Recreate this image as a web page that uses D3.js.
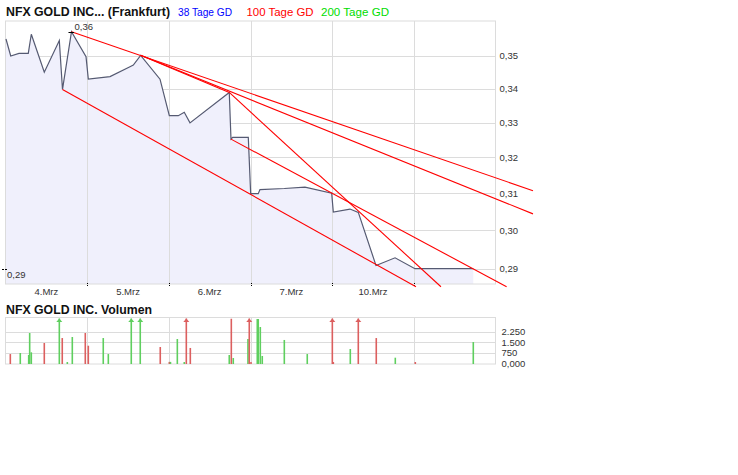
<!DOCTYPE html>
<html><head><meta charset="utf-8">
<script src="https://cdn.jsdelivr.net/npm/d3@7"></script>
<style>body{margin:0;background:#fff} svg{display:block;font-family:"Liberation Sans",Arial,sans-serif}</style>
</head><body><svg id="c" width="738" height="475"></svg>
<script>
// ---------- data ----------
const chartTitle = "NFX GOLD INC... (Frankfurt)";
const volumeTitle = "NFX GOLD INC. Volumen";
const legendLabels = ["38 Tage GD", "100 Tage GD", "200 Tage GD"];
const legendColors = ["#0000ff", "#ff0000", "#00dd00"];
const dayLabels = ["4.Mrz", "5.Mrz", "6.Mrz", "7.Mrz", "10.Mrz"];
const dayBounds = [1, 2, 3, 4, 5];
const priceTicks = [0.29, 0.30, 0.31, 0.32, 0.33, 0.34, 0.35];
const volumeTicks = [0, 750, 1500, 2250];
const volumeTickLabels = ["0,000", "750", "1.500", "2.250"];

// x in trading days from the start (4.Mrz = 0..1), value in EUR
const priceX = [0.006,0.064,0.165,0.279,0.316,0.475,0.659,0.698,0.808,0.986,1.014,1.280,1.524,1.565,1.655,1.892,2.006,2.116,2.189,2.259,2.740,2.761,2.782,2.973,3.002,3.095,3.116,3.414,3.667,3.994,4.014,4.218,4.320,4.537,4.770,5.014,5.728];
const priceV = [0.3553,0.3500,0.3508,0.3508,0.3568,0.3450,0.3548,0.3398,0.3576,0.3498,0.3429,0.3437,0.3467,0.3472,0.3502,0.3429,0.3320,0.3320,0.3330,0.3299,0.3389,0.3252,0.3257,0.3257,0.3099,0.3099,0.3110,0.3113,0.3117,0.3100,0.3049,0.3057,0.3048,0.2908,0.2928,0.2900,0.2900];

const volX = [0.059,0.181,0.284,0.296,0.316,0.475,0.659,0.695,0.757,0.818,0.977,1.014,1.197,1.259,1.540,1.650,1.895,2.006,2.020,2.104,2.189,2.214,2.263,2.740,2.765,2.789,2.969,2.985,3.006,3.083,3.095,3.120,3.144,3.414,3.695,4.002,4.014,4.222,4.320,4.540,4.773,5.018,5.728];
const volV = [650,725,580,2175,775,1450,4200,1810,70,1885,2175,1255,1810,650,4200,4200,1160,80,80,1740,70,4200,1090,580,3210,360,1740,4200,70,3190,3190,2610,510,1670,650,4200,70,1015,4200,1810,385,70,1520];
const volUp = [0,1,1,1,1,0,1,0,1,1,0,0,1,1,1,1,0,0,1,1,1,0,0,1,0,1,1,0,0,1,1,1,1,1,1,0,0,1,0,0,1,0,1];

// trend lines: [x0, v0, x1, v1]
const trendLines = [
  [0.808, 0.3576, 6.459, 0.3107],
  [1.655, 0.3502, 6.459, 0.3044],
  [1.655, 0.3502, 2.740, 0.3389],
  [2.740, 0.3389, 5.332, 0.2854],
  [2.761, 0.3252, 6.136, 0.2854],
  [0.698, 0.3398, 5.026, 0.2854]
];

// ---------- layout ----------
const svg = d3.select("#c");
const L = 5.5, R = 495.5, PT = 21, PB = 284;
const VT = 317.5, VB = 364;
const x = d3.scaleLinear().domain([0, 6]).range([L, R]);
const y = d3.scaleLog().domain([0.2861, 0.3610]).range([PB, PT]);
const yv = d3.scaleLinear().domain([0, 3300]).range([363, VT]);
const de = d3.formatLocale({decimal: ",", thousands: ".", grouping: [3], currency: ["", "€"]});
const fmt2 = de.format(".2f");
const grid = "#dcdcdc";

// header
svg.append("text").attr("x", 6).attr("y", 15.5).attr("font-size", 12).attr("font-weight", "bold")
  .attr("fill", "#111").attr("textLength", 164).attr("lengthAdjust", "spacingAndGlyphs").text(chartTitle);
const legX = [178, 246.5, 321];
const legW = [54, 67, 68];
legendLabels.forEach((t, i) => svg.append("text").attr("x", legX[i]).attr("y", 15.5)
  .attr("font-size", 11).attr("fill", legendColors[i])
  .attr("textLength", legW[i]).attr("lengthAdjust", "spacingAndGlyphs").text(t));

// price plot
const gp = svg.append("g");
gp.selectAll(".hg").data(priceTicks).join("line")
  .attr("x1", L).attr("x2", R).attr("y1", d => Math.round(y(d)) + 0.5).attr("y2", d => Math.round(y(d)) + 0.5)
  .attr("stroke", grid);
const area = d3.area().x((d, i) => x(priceX[i])).y0(PB).y1(d => y(d));
gp.append("path").datum(priceV).attr("d", area).attr("fill", "#f0f0fc");
gp.selectAll(".vg").data(dayBounds).join("line")
  .attr("x1", d => Math.round(x(d)) + 0.5).attr("x2", d => Math.round(x(d)) + 0.5).attr("y1", PT).attr("y2", PB)
  .attr("stroke", grid);
gp.append("rect").attr("x", L).attr("y", PT).attr("width", R - L).attr("height", PB - PT)
  .attr("fill", "none").attr("stroke", grid);
gp.selectAll(".tk").data(dayBounds).join("line")
  .attr("x1", d => Math.round(x(d)) + 0.5).attr("x2", d => Math.round(x(d)) + 0.5).attr("y1", PB - 1).attr("y2", PB + 3)
  .attr("stroke", "#000").attr("stroke-dasharray", "1,1");
const line = d3.line().x((d, i) => x(priceX[i])).y(d => y(d));
gp.append("path").datum(priceV).attr("d", line).attr("fill", "none").attr("stroke", "#555a72").attr("stroke-width", 1.2);
gp.selectAll(".tl").data(trendLines).join("line")
  .attr("x1", d => x(d[0])).attr("y1", d => y(d[1])).attr("x2", d => x(d[2])).attr("y2", d => y(d[3]))
  .attr("stroke", "#ff0000").attr("stroke-width", 1.1);
// axis labels
gp.selectAll(".yl").data(priceTicks).join("text")
  .attr("x", 499.5).attr("y", d => y(d) + 3.5).attr("font-size", 9.5).attr("fill", "#333").text(d => fmt2(d));
gp.selectAll(".xl").data(dayLabels).join("text")
  .attr("x", (d, i) => x(i + 0.5)).attr("y", 295).attr("text-anchor", "middle")
  .attr("font-size", 9.5).attr("fill", "#333").text(d => d);
// max / min markers
const iMax = d3.maxIndex(priceV);
const vMin = d3.min(priceV);
gp.append("line").attr("x1", x(priceX[iMax]) - 3).attr("x2", x(priceX[iMax]) + 2.5)
  .attr("y1", Math.round(y(priceV[iMax])) + 0.5).attr("y2", Math.round(y(priceV[iMax])) + 0.5).attr("stroke", "#000");
gp.append("text").attr("x", x(priceX[iMax]) + 3).attr("y", y(priceV[iMax]) - 2).attr("font-size", 9.5)
  .attr("fill", "#333").text(fmt2(priceV[iMax]));
gp.append("line").attr("x1", 2).attr("x2", 8).attr("y1", Math.round(y(vMin)) + 0.5).attr("y2", Math.round(y(vMin)) + 0.5)
  .attr("stroke", "#000").attr("stroke-dasharray", "2,1");
gp.append("text").attr("x", 7).attr("y", y(vMin) + 9).attr("font-size", 9.5).attr("fill", "#333").text(fmt2(vMin));

// volume plot
svg.append("text").attr("x", 6).attr("y", 313.5).attr("font-size", 12).attr("font-weight", "bold")
  .attr("fill", "#111").attr("textLength", 146).attr("lengthAdjust", "spacingAndGlyphs").text(volumeTitle);
const gv = svg.append("g");
gv.selectAll(".vh").data(volumeTicks.slice(1)).join("line")
  .attr("x1", L).attr("x2", R).attr("y1", d => Math.round(yv(d)) + 0.5).attr("y2", d => Math.round(yv(d)) + 0.5)
  .attr("stroke", grid);
gv.selectAll(".vv").data(dayBounds).join("line")
  .attr("x1", d => Math.round(x(d)) + 0.5).attr("x2", d => Math.round(x(d)) + 0.5).attr("y1", VT).attr("y2", VB)
  .attr("stroke", grid);
gv.append("rect").attr("x", L).attr("y", VT).attr("width", R - L).attr("height", VB - VT)
  .attr("fill", "none").attr("stroke", grid);
const vmax = yv.domain()[1];
const green = "#5fcf5f", red = "#dc5f5f";
gv.selectAll(".bar").data(volV).join("rect")
  .attr("x", (d, i) => x(volX[i]) - 0.8).attr("width", 1.6)
  .attr("y", d => d > vmax ? VT + 1 : yv(d)).attr("height", d => VB - (d > vmax ? VT + 1 : yv(d)))
  .attr("fill", (d, i) => volUp[i] ? green : red);
gv.selectAll(".arr").data(volV.map((v, i) => i).filter(i => volV[i] > vmax)).join("path")
  .attr("d", i => { const cx = x(volX[i]); return `M${cx - 3},${VT + 4.5}L${cx},${VT + 1}L${cx + 3},${VT + 4.5}Z`; })
  .attr("fill", i => volUp[i] ? green : red);
gv.selectAll(".vl").data(volumeTicks).join("text")
  .attr("x", 501.5).attr("y", d => yv(d) + 3.5).attr("font-size", 9.5).attr("fill", "#333")
  .text((d, i) => volumeTickLabels[i]);
</script></body></html>
